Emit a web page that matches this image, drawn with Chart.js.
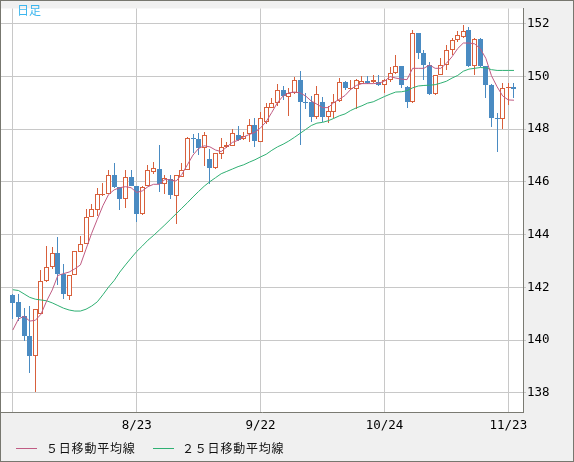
<!DOCTYPE html>
<html><head><meta charset="utf-8">
<script src="https://cdn.jsdelivr.net/npm/chart.js@4.4.0/dist/chart.umd.min.js"></script>
<style>
html,body{margin:0;padding:0;background:#fff;}
#wrap{position:relative;width:574px;height:462px;background:#f0f0f0;overflow:hidden;}
#c{position:absolute;left:0;top:0;}
#frame{position:absolute;left:0;top:0;width:574px;height:462px;box-sizing:border-box;border:1px solid #77776f;pointer-events:none;}
#title{position:absolute;left:17px;top:3px;font-family:"Noto Sans CJK JP";font-size:12px;line-height:13px;color:#3cb6ee;white-space:nowrap;}
.lg{position:absolute;top:441px;height:14px;font-family:"Noto Sans CJK JP";font-size:12px;line-height:14px;color:#111;letter-spacing:0.8px;white-space:nowrap;}
.ln{position:absolute;top:448px;height:1px;}
</style>
</head><body>
<div id="wrap">
<canvas id="c" width="574" height="462"></canvas>
<div id="title"></div>
<div id="ln1" class="ln" style="left:16px;width:21px;"></div>
<div id="lg1" class="lg" style="left:46px;"></div>
<div id="ln2" class="ln" style="left:153px;width:21px;"></div>
<div id="lg2" class="lg" style="left:182px;"></div>
<div id="frame"></div>
</div>
<script>
const chartTitle = '日足';
const seriesNames = ['５日移動平均線', '２５日移動平均線'];
const dates = ['7/24','7/25','7/26','7/27','7/28','7/31',
'8/1','8/2','8/3','8/4','8/7','8/8','8/9','8/10','8/11','8/14','8/15','8/16','8/17','8/18','8/21','8/22','8/23','8/24','8/25','8/28','8/29','8/30','8/31',
'9/1','9/4','9/5','9/6','9/7','9/8','9/11','9/12','9/13','9/14','9/15','9/18','9/19','9/20','9/21','9/22','9/25','9/26','9/27','9/28','9/29',
'10/2','10/3','10/4','10/5','10/6','10/9','10/10','10/11','10/12','10/13','10/16','10/17','10/18','10/19','10/20','10/23','10/24','10/25','10/26','10/27','10/30','10/31',
'11/1','11/2','11/3','11/6','11/7','11/8','11/9','11/10','11/13','11/14','11/15','11/16','11/17','11/20','11/21','11/22','11/23','11/24'];
const opens = [141.71,141.44,140.92,140.17,139.40,141.00,142.25,142.77,143.30,142.49,
141.69,142.45,143.33,143.66,144.67,144.94,145.51,145.53,146.28,145.82,
145.37,146.19,145.83,144.80,145.84,146.38,146.50,145.91,146.10,145.47,
146.18,146.44,147.68,147.62,147.27,146.88,146.53,147.06,147.33,147.37,
147.77,147.61,147.80,148.17,147.52,148.26,148.82,148.99,149.48,149.23,
149.38,149.85,149.04,149.04,148.45,149.04,148.48,148.67,149.07,149.78,
149.51,149.51,149.73,149.82,149.79,149.78,149.69,149.85,150.13,150.38,
149.61,149.04,151.64,150.90,150.44,149.32,150.07,150.44,151.00,151.37,
151.49,151.77,150.40,151.43,150.38,149.67,148.43,148.39,149.55,149.59];
const highs = [141.75,141.74,141.21,141.31,141.18,142.66,143.56,143.53,143.90,142.89,
142.47,143.36,143.96,144.97,145.16,145.76,145.94,146.46,146.70,145.82,
146.45,146.45,145.83,145.85,146.65,146.77,147.40,146.25,146.25,146.25,
146.73,147.70,147.83,147.87,147.89,147.25,147.09,147.68,147.50,148.00,
148.12,147.90,148.37,148.41,148.67,149.01,149.20,149.73,149.63,149.57,
149.99,150.19,149.38,149.26,149.64,149.23,148.89,149.32,149.96,149.84,
149.88,149.90,150.00,150.00,150.05,150.07,149.90,150.35,150.81,150.40,
149.65,151.77,151.64,151.00,150.56,150.07,150.69,151.18,151.47,151.74,
151.97,151.87,151.47,151.45,150.40,149.70,148.61,149.75,149.75,149.75];
const lows = [140.79,140.72,139.95,138.76,138.01,140.98,142.20,142.70,142.08,141.54,
141.52,142.45,143.33,143.66,144.67,144.70,145.48,145.53,145.78,144.95,
145.00,145.83,144.48,144.75,145.84,146.30,145.63,145.56,145.35,144.42,
146.18,146.44,147.09,147.02,146.59,145.93,146.50,146.88,147.30,147.37,
147.55,147.60,147.50,147.33,147.50,148.20,148.80,148.89,149.11,148.51,
149.35,147.40,148.76,148.26,148.40,148.29,148.24,148.41,149.05,149.50,
149.48,148.78,149.70,149.70,149.75,149.65,149.37,149.80,150.10,149.55,
148.82,149.00,150.65,149.88,149.30,149.30,150.05,150.25,150.81,151.30,
151.45,150.35,150.07,150.35,149.20,148.10,147.15,148.02,148.91,149.20];
const closes = [141.41,140.89,140.15,139.40,141.18,142.25,142.77,143.29,142.49,141.75,
142.47,143.36,143.66,144.67,144.98,145.53,145.56,146.28,145.81,145.36,
146.19,145.83,144.80,145.82,146.47,146.53,145.93,146.13,145.51,146.25,
146.47,147.68,147.62,147.27,147.79,146.53,147.09,147.33,147.40,147.87,
147.58,147.74,148.17,147.55,148.43,148.85,149.01,149.48,149.26,149.38,
149.85,149.05,149.01,148.48,149.32,148.48,148.69,149.05,149.78,149.57,
149.57,149.85,149.82,149.75,149.88,149.69,149.85,150.13,150.38,149.66,
149.05,151.64,150.90,150.44,149.34,150.07,150.44,151.00,151.37,151.56,
151.74,150.38,151.41,150.38,149.69,148.43,148.39,149.55,149.59,149.51];
const ma5 = [140.38,140.80,140.90,140.72,140.75,140.98,141.48,141.90,142.45,142.52,
142.58,142.70,142.85,143.45,144.05,144.58,145.10,145.52,145.70,145.78,
145.82,145.78,145.60,145.66,145.82,145.91,145.91,146.09,146.08,146.03,
146.28,146.65,147.02,147.27,147.37,147.33,147.21,147.15,147.33,147.50,
147.58,147.71,147.80,147.88,148.05,148.29,148.64,149.01,149.26,149.38,
149.41,149.38,149.26,149.07,148.95,148.82,148.82,149.01,149.14,149.28,
149.51,149.66,149.73,149.73,149.73,149.75,149.82,150.00,149.94,149.90,
149.88,150.31,150.31,150.31,150.44,150.31,150.31,150.50,150.75,151.06,
151.27,151.27,151.24,151.06,150.69,150.03,149.61,149.26,149.11,149.10];
const ma25 = [141.91,141.88,141.75,141.62,141.55,141.52,141.49,141.41,141.31,141.21,
141.14,141.10,141.10,141.17,141.29,141.45,141.72,142.01,142.26,142.58,
142.85,143.11,143.36,143.57,143.79,143.97,144.17,144.37,144.58,144.79,
145.00,145.21,145.43,145.64,145.84,146.01,146.16,146.31,146.40,146.49,
146.58,146.65,146.75,146.84,146.95,147.05,147.20,147.33,147.43,147.55,
147.69,147.84,147.99,148.14,148.23,148.26,148.32,148.41,148.51,148.58,
148.71,148.81,148.89,148.99,149.04,149.14,149.24,149.33,149.41,149.42,
149.46,149.57,149.64,149.66,149.67,149.69,149.75,149.82,149.94,150.04,
150.20,150.28,150.31,150.34,150.33,150.26,150.23,150.23,150.23,150.23];
const yTicks = [138,140,142,144,146,148,150,152];
const gridDates = ['7/24','8/23','9/22','10/24','11/23'];
const labelDates = ['8/23','9/22','10/24','11/23'];

const UP = '#d8603c', DOWN = '#4a8bc2', MA5C = '#c05c84', MA25C = '#2fb073';
document.getElementById('title').textContent = chartTitle;
document.getElementById('lg1').textContent = seriesNames[0];
document.getElementById('lg2').textContent = seriesNames[1];
document.getElementById('ln1').style.background = MA5C;
document.getElementById('ln2').style.background = MA25C;

const up = i => closes[i] >= opens[i];
const plotBg = {id:'plotBg', beforeDraw(chart){const {ctx, chartArea:a} = chart; ctx.save(); ctx.fillStyle = '#ffffff'; ctx.fillRect(a.left, a.top, a.right - a.left, a.bottom - a.top); ctx.restore();}};
// snap the library-computed bar geometry onto the pixel grid for crisp candles
const pixelSnap = {id:'pixelSnap', afterDatasetsUpdate(chart){
  chart.data.datasets.forEach((ds, di) => {
    if (ds.type !== 'bar') return;
    chart.getDatasetMeta(di).data.forEach(el => {
      el.x = Math.floor(el.x) + 0.5;
      let t = Math.round(Math.min(el.y, el.base)), b = Math.round(Math.max(el.y, el.base));
      if (b - t < 1) b = t + 1;
      el.y = t; el.base = b; el.height = b - t;
    });
  });
}};
const tickFont = {family:'DejaVu Sans Mono', size:12.5};

new Chart(document.getElementById('c'), {
  type: 'line',
  data: {
    datasets: [
      {type:'line', label:seriesNames[0], data: ma5.map((v,i)=>({x:i,y:v})), borderColor:MA5C, borderWidth:1, pointRadius:0, tension:0, order:0},
      {type:'line', label:seriesNames[1], data: ma25.map((v,i)=>({x:i,y:v})), borderColor:MA25C, borderWidth:1, pointRadius:0, tension:0, order:1},
      {type:'bar', label:'body', data: dates.map((d,i)=>({x:i, y:[opens[i], closes[i]]})),
        backgroundColor: c => up(c.dataIndex) ? '#ffffff' : DOWN,
        borderColor: c => up(c.dataIndex) ? UP : DOWN,
        borderWidth:1, borderSkipped:false, barThickness:5, grouped:false, inflateAmount:0, order:2},
      {type:'bar', label:'wick', data: dates.map((d,i)=>({x:i, y:[lows[i], highs[i]]})),
        backgroundColor: c => up(c.dataIndex) ? UP : DOWN,
        borderWidth:0, barThickness:1, grouped:false, inflateAmount:0, order:3}
    ]
  },
  options: {
    responsive:false, animation:false, devicePixelRatio:1,
    layout:{padding:{left:1, top:1, right:1, bottom:0}},
    plugins:{legend:{display:false}, tooltip:{enabled:false}},
    scales:{
      x:{type:'linear', min:-2.1, max:90.6, offset:false, position:'bottom',
        afterBuildTicks: s => { s.ticks = gridDates.map(d => ({value: dates.indexOf(d)})); },
        afterFit: s => { s.height = 50; },
        grid:{color:'#c8c8c8', lineWidth:1, drawTicks:false, offset:false},
        border:{color:'#7a7a72', width:1},
        ticks:{padding:6, color:'#000', font:tickFont, maxRotation:0, autoSkip:false,
          callback: v => labelDates.includes(dates[v]) ? dates[v] : ''}
      },
      y:{type:'linear', position:'right', min:137.27, max:152.58,
        afterBuildTicks: s => { s.ticks = yTicks.map(v => ({value:v})); },
        afterFit: s => { s.width = 50; },
        grid:{color:'#c8c8c8', lineWidth:1, tickLength:3, drawTicks:true},
        border:{color:'#7a7a72', width:1},
        ticks:{padding:1, color:'#000', font:tickFont, callback: v => String(v)}
      }
    }
  },
  plugins:[plotBg, pixelSnap]
});
</script>
</body></html>
